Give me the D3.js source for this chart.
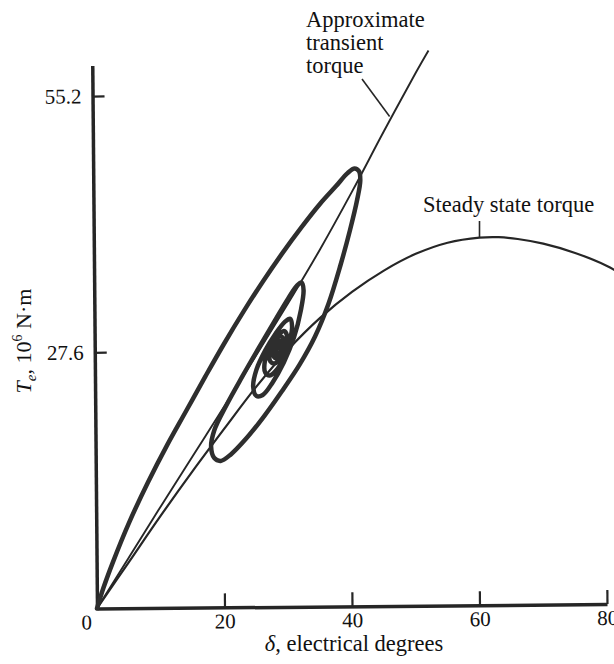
<!DOCTYPE html>
<html>
<head>
<meta charset="utf-8">
<script src="https://cdn.jsdelivr.net/npm/d3@7/dist/d3.min.js"></script>
<style>
  body { margin: 0; background: #fff; }
</style>
</head>
<body>
<script>
const width = 614, height = 664;
const serif = "'Liberation Serif', 'Times New Roman', Times, serif";

// tick labels
const xTicks = [0, 20, 40, 60, 80];
const yTicks = [27.6, 55.2];

// steady state torque curve, [delta (deg), Te (10^6 N.m)]
const steadyState = [
  [0, 0], [5, 5.0], [10, 10.0], [15, 14.8], [20, 19.4], [25, 23.9], [30, 27.9],
  [35, 31.3], [40, 34.1], [45, 36.4], [50, 38.2], [55, 39.4], [60, 39.95],
  [63, 40.0], [66, 39.8], [70, 39.3], [75, 38.3], [80, 36.9], [82, 36.1]
];

// approximate transient torque curve
const transient = [
  [0, 0], [5, 5.5], [10, 11.0], [15, 16.4], [20, 21.8], [25, 27.3], [30, 32.9],
  [35, 38.7], [40, 44.9], [45, 51.4], [50, 57.7], [52, 60.1]
];

// dynamic torque-angle trajectory (spiral toward the operating point)
const trajectory = [
  // first swing up
  [0, 0], [1, 2.2], [2.5, 5.0], [5, 9.2], [8, 13.6], [11, 17.6], [14, 21.3],
  [17, 25.0], [20, 28.6], [23, 32.0], [26, 35.2], [29, 38.2], [32, 41.0],
  [35, 43.6], [37.5, 45.5], [39.3, 46.9], [40.4, 47.4], [41.1, 47.1], [41.3, 46.1],
  // back swing
  [40.8, 44.0], [39.7, 40.8], [38.2, 37.0], [36.3, 32.8], [34.2, 29.3], [31.8, 26.3],
  [29.0, 23.4], [26.2, 20.7], [23.4, 18.3], [21.0, 16.6], [19.4, 15.9], [18.4, 16.2],
  [17.9, 17.4],
  // second loop
  [18.4, 19.2], [20.3, 21.9], [22.8, 25.0], [25.4, 28.1], [27.9, 31.0], [30.0, 33.4],
  [31.4, 34.8], [32.1, 35.1], [32.4, 34.3], [32.0, 32.2], [30.9, 29.2], [29.3, 26.5],
  [27.5, 24.3], [26.0, 23.0], [25.0, 22.9], [24.5, 23.9],
  // third loop
  [25.0, 25.7], [26.4, 27.8], [28.0, 29.6], [29.5, 30.9], [30.3, 31.2], [30.6, 30.4],
  [30.3, 29.0], [29.5, 27.2], [28.3, 25.8], [27.1, 25.1], [26.4, 25.4], [26.3, 26.5],
  // settling
  [27.0, 27.9], [28.2, 29.2], [29.3, 29.9], [29.8, 29.4], [29.5, 28.2], [28.8, 27.1],
  [27.9, 26.4], [27.2, 26.6], [27.1, 27.6], [27.8, 28.7], [28.7, 29.3], [29.3, 29.0],
  [29.2, 28.0], [28.6, 27.2], [27.9, 27.0], [27.6, 27.6], [28.0, 28.5], [28.7, 28.8],
  [29.0, 28.3], [28.7, 27.6], [28.2, 27.5], [28.0, 28.0], [28.4, 28.4], [28.6, 28.0]
];

const svg = d3.select("body").append("svg")
    .attr("width", width)
    .attr("height", height)
    .style("display", "block")
    .style("font-family", serif);

svg.append("rect").attr("width", width).attr("height", height).attr("fill", "#fff");

const x = d3.scaleLinear().domain([0, 80]).range([97, 607]);
const y = d3.scaleLinear().domain([0, 58.5]).range([608.5, 65.4]);

const ink = "#262626";

// axes (the scan is tilted a little)
const axes = svg.append("g").attr("transform", "rotate(-0.5," + x(0) + "," + y(0) + ")");

const xAxis = axes.append("g")
    .attr("transform", "translate(0," + y(0) + ")")
    .call(d3.axisBottom(x).tickValues(xTicks).tickSizeInner(-14).tickSizeOuter(0).tickPadding(6));

const yAxis = axes.append("g")
    .attr("transform", "translate(" + x(0) + ",0)")
    .call(d3.axisLeft(y).tickValues(yTicks).tickSizeInner(-12).tickSizeOuter(0).tickPadding(11)
      .tickFormat(d3.format(".1f")));

[xAxis, yAxis].forEach(function(a) {
  a.attr("font-family", null);
  a.select(".domain").attr("stroke", ink).attr("stroke-width", 3.5);
  a.selectAll(".tick line").attr("stroke", ink).attr("stroke-width", 2.2);
  a.selectAll(".tick text")
    .attr("fill", "#111")
    .style("font-family", serif)
    .style("font-size", "21px");
});
xAxis.selectAll(".tick").filter(function(d) { return d === 0; }).select("line").remove();
xAxis.selectAll(".tick text").filter(function(d) { return d === 0; }).attr("x", -11);

// curves
const line = d3.line()
    .x(function(d) { return x(d[0]); })
    .y(function(d) { return y(d[1]); })
    .curve(d3.curveCatmullRom.alpha(0.5));

svg.append("path").datum(steadyState)
    .attr("d", line).attr("fill", "none").attr("stroke", ink).attr("stroke-width", 2.2);

svg.append("path").datum(transient)
    .attr("d", line).attr("fill", "none").attr("stroke", ink).attr("stroke-width", 1.9);

svg.append("path").datum(trajectory)
    .attr("d", line).attr("fill", "none").attr("stroke", "#2e2e2e")
    .attr("stroke-width", 4.5).attr("stroke-linejoin", "round").attr("stroke-linecap", "round");

// annotations
function label(px, py, str) {
  return svg.append("text")
      .attr("x", px).attr("y", py)
      .attr("fill", "#111")
      .style("font-family", serif)
      .style("font-size", "22.5px")
      .text(str);
}

label(306, 27, "Approximate");
label(306, 50, "transient");
label(306, 73, "torque");

svg.append("line")
    .attr("x1", 362).attr("y1", 79)
    .attr("x2", x(45.9)).attr("y2", y(53.0))
    .attr("stroke", ink).attr("stroke-width", 1.6);

label(423, 212, "Steady state torque");

svg.append("line")
    .attr("x1", x(60)).attr("y1", 221)
    .attr("x2", x(60)).attr("y2", y(39.95))
    .attr("stroke", ink).attr("stroke-width", 1.6);

// axis titles
const xTitle = svg.append("text")
    .attr("x", 354).attr("y", 651)
    .attr("text-anchor", "middle")
    .attr("fill", "#111")
    .style("font-family", serif)
    .style("font-size", "22.5px");
xTitle.append("tspan").style("font-style", "italic").text("δ");
xTitle.append("tspan").text(", electrical degrees");

const yTitle = svg.append("text")
    .attr("transform", "translate(31,341) rotate(-90)")
    .attr("text-anchor", "middle")
    .attr("fill", "#111")
    .style("font-family", serif)
    .style("font-size", "22px");
yTitle.append("tspan").style("font-style", "italic").text("T");
yTitle.append("tspan").style("font-style", "italic").style("font-size", "15px").attr("dy", 5).text("e");
yTitle.append("tspan").attr("dy", -5).text(", 10");
yTitle.append("tspan").style("font-size", "14px").attr("dy", -9).text("6");
yTitle.append("tspan").attr("dy", 9).text(" N·m");
</script>
</body>
</html>
